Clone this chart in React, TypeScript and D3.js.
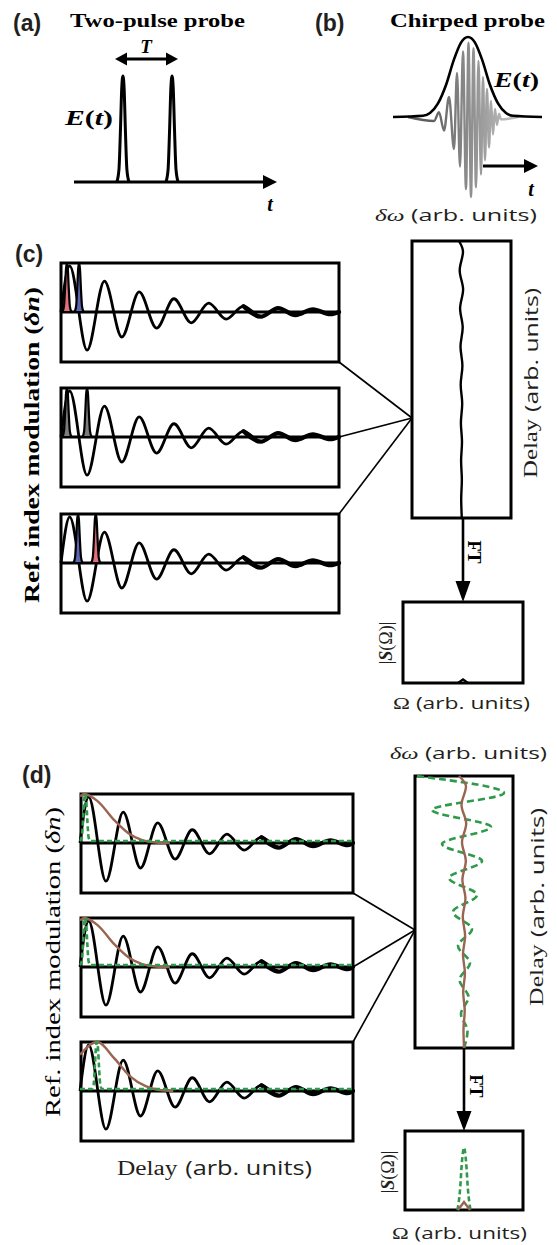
import React from "react";
import * as d3 from "d3";

type P = [number, number];

// ---------------- data ----------------
// (a) two-pulse probe: pulse times on the normalised time axis
const pulseTimesA = [0.241, 0.483];
// generic narrow pulse profile (offset in half-widths, relative height)
const pulseProfile: P[] = [[-1, 0], [-0.65, 0.12], [-0.4, 0.5], [-0.2, 0.88], [0, 1], [0.2, 0.88], [0.4, 0.5], [0.65, 0.12], [1, 0]];

// (b) chirped probe: envelope and oscillation extrema (time, relative field)
const chirpEnvelope: P[] = [[-75, 0], [-45, 0.015], [-38, 0.05], [-30, 0.17], [-22, 0.4], [-14, 0.72], [-7, 0.93], [0, 1], [7, 0.93], [14, 0.72], [22, 0.4], [30, 0.17], [38, 0.05], [45, 0.015], [74, 0]];
const chirpTroughs: P[] = [[-34, 0.05], [-24, 0.17], [-14, 0.4], [-8, 0.62], [-2, 0.9], [3, 1.0], [8, 0.88], [13, 0.72], [17, 0.54], [21, 0.38], [25, 0.22], [29, 0.1], [33, 0.03]];
const chirpPeaks: P[] = [[-29, 0.06], [-19, 0.25], [-11, 0.55], [-5, 0.82], [0.5, 0.93], [5.5, 0.86], [10.5, 0.7], [15, 0.5], [19, 0.35], [23, 0.2], [27, 0.1], [31, 0.04]];

// (c),(d) refractive-index modulation: extrema amplitudes, k-th at t = 0.25 + 0.5k periods
const oscAmps = [0.94, -0.78, 0.63, -0.51, 0.41, -0.33, 0.27, -0.22, 0.18, -0.145, 0.12, -0.095, 0.08, -0.065, 0.055, -0.045];

// (c) two-pulse probe positions (periods) in each of the three boxes
const cPulseTimes = [[0.17, 0.52], [0.17, 0.75], [0.49, 1.0]];

// (c) spectral shift vs delay (delay in periods, shift in arb. units)
const cShift: P[] = [[0, -2.5], [0.3, 1.5], [0.85, -1.8], [1.4, 1.6], [1.95, -1.4], [2.5, 1.2], [3.05, -1.0], [3.6, 0.9], [4.15, -0.8], [4.7, 0.7], [5.25, -0.6], [5.8, 0.5], [6.35, -0.4], [6.9, 0.35], [7.45, -0.3], [8, 0.3]];
// (c) Fourier transform: tiny bump
const cFT: P[] = [[-5, 0], [0, 0.045], [5, 0]];

// (d) brown (long probe) curves for the three boxes
const dBrown: P[][] = [
  [[0, 0.95], [0.12, 1.0], [0.5, 0.86], [1.0, 0.46], [1.4, 0.2], [1.8, 0.06], [2.2, 0.01], [2.6, 0]],
  [[0, 0.95], [0.12, 1.0], [0.5, 0.86], [1.0, 0.46], [1.4, 0.2], [1.8, 0.06], [2.2, 0.01], [2.6, 0]],
  [[0, 0.74], [0.5, 1.0], [1.0, 0.66], [1.45, 0.3], [1.9, 0.1], [2.3, 0.02], [2.7, 0]],
];
// (d) green dashed short probe position per box (periods)
const dGreenTimes = [0.15, 0.15, 0.49];
// (d) spectral shift vs delay: green (short probe) and brown (long probe)
const dGreenShift: P[] = [[0, -47], [0.5, 40], [1, -32], [1.5, 27], [2, -22], [2.5, 18], [3, -15], [3.5, 13], [4, -11], [4.5, 8], [5, -6], [5.5, 6], [6, -4.5], [6.5, 4.5], [7, -3], [7.5, 3.5], [8, 0]];
const dBrownShift: P[] = [[0, -5], [0.3, 2], [0.85, -2.5], [1.4, 2.2], [1.95, -2], [2.5, 1.8], [3.05, -1.6], [3.6, 1.4], [4.15, -1.2], [4.7, 1.1], [5.25, -1], [5.8, 0.9], [6.35, -0.8], [6.9, 0.7], [7.45, -0.5], [8, 0]];
// (d) Fourier transforms
const dFTGreen: P[] = [[-6.5, 0], [-4, 0.25], [-2, 0.62], [0, 0.79], [2, 0.62], [4, 0.25], [6.5, 0]];
const dFTBrown: P[] = [[-6, 0], [0, 0.1], [6, 0]];

// ---------------- styles ----------------
const SERIF = "'Liberation Serif', 'DejaVu Serif', serif";
const SANS = "'Open Sans', 'Noto Sans', 'Liberation Sans', sans-serif";
const HELV = "'Liberation Sans', Arial, sans-serif";
const RED = "#e2707b";
const BLUE = "#5d66b0";
const GREY = "#7c7c7c";
const cPulseColors = [[RED, BLUE], [GREY, GREY], [BLUE, RED]];
const GREEN = "#2f9a49";
const BROWN = "#9a6452";
const TXT = "#231f20";

const lineOf = (xs: (v: number) => number, ys: (v: number) => number, curve: d3.CurveFactory = d3.curveMonotoneX) =>
  d3.line<P>().x((d) => xs(d[0])).y((d) => ys(d[1])).curve(curve);

const tri = (pts: P[]) => pts.map((p) => p.join(",")).join(" ");

function oscPoints(tEnd: number): P[] {
  const pts: P[] = [[0, 0]];
  oscAmps.forEach((a, k) => {
    const t = 0.25 + 0.5 * k;
    if (t < tEnd) pts.push([t, a]);
  });
  pts.push([tEnd, 0]);
  return pts;
}

function pulsePts(center: number, half: number): P[] {
  return pulseProfile.map(([dx, h]) => [center + dx * half, h] as P);
}

function Et({ x, y, len }: { x: number; y: number; len: number }) {
  return (
    <text x={x} y={y} fontFamily={SERIF} fontWeight="bold" fontSize={21} textLength={len} lengthAdjust="spacingAndGlyphs">
      <tspan fontStyle="italic">E</tspan>
      <tspan>(</tspan>
      <tspan fontStyle="italic">t</tspan>
      <tspan>)</tspan>
    </text>
  );
}

export default function App() {
  // ---------- (a) ----------
  const ax = d3.scaleLinear().domain([0, 1]).range([74, 277]);
  const ay = d3.scaleLinear().domain([0, 1]).range([182, 76]);
  const aLine = lineOf(ax, ay);

  // ---------- (b) ----------
  const bx = d3.scaleLinear().domain([-80, 80]).range([388, 548]);
  const by = d3.scaleLinear().domain([-1, 1]).range([197, 37]);
  const bLine = lineOf(bx, by);
  const chirpPts: P[] = [[-60, 0], ...[...chirpTroughs.map(([t, v]) => [t, -v] as P), ...chirpPeaks].sort((a, b) => a[0] - b[0]), [50, 0]];

  // ---------- (c) left boxes ----------
  const cX0 = 61, cX1 = 339, cTops = [263, 388, 514], boxH = 99;
  const cx = d3.scaleLinear().domain([0, 8]).range([cX0, cX1]);
  const cOsc = oscPoints(8);

  // ---------- (d) left boxes ----------
  const dX0 = 81, dX1 = 353, dTops = [794, 918, 1042];
  const dx = d3.scaleLinear().domain([0, 7.9]).range([dX0 - 1, dX1]);
  const dOsc = oscPoints(7.9);

  // ---------- right panels ----------
  const crx = d3.scaleLinear().domain([-49.5, 49.5]).range([412, 511]);
  const cry = d3.scaleLinear().domain([0, 8]).range([241, 518]);
  const drx = d3.scaleLinear().domain([-49, 49]).range([415, 513]);
  const dry = d3.scaleLinear().domain([0, 8]).range([776, 1048]);
  const vLine = (xs: (v: number) => number, ys: (v: number) => number) =>
    d3.line<P>().x((d) => xs(d[1])).y((d) => ys(d[0])).curve(d3.curveMonotoneY);

  // FT boxes
  const cfx = d3.scaleLinear().domain([-60, 60]).range([403, 523]);
  const cfy = d3.scaleLinear().domain([0, 1]).range([683, 602]);
  const dfx = d3.scaleLinear().domain([-59, 59]).range([405, 523]);
  const dfy = d3.scaleLinear().domain([0, 1]).range([1210, 1131]);

  const LW = 2.8;

  const leftBox = (
    key: string,
    xs: d3.ScaleLinear<number, number>,
    x0: number,
    x1: number,
    top: number,
    osc: P[],
    over: React.ReactNode
  ) => {
    const ys = d3.scaleLinear().domain([-1, 1]).range([top + 98, top]);
    const zero = ys(0);
    const tail = osc.filter((p) => p[0] >= 5.25);
    return (
      <g key={key}>
        <rect x={x0} y={top} width={x1 - x0} height={boxH} fill="#fff" stroke="#000" strokeWidth={3} />
        <path d={lineOf(xs, ys)(osc) || ""} fill="none" stroke="#000" strokeWidth={LW} />
        <path d={lineOf(xs, ys)(tail) || ""} fill="none" stroke="#000" strokeWidth={4.2} strokeLinecap="round" />
        <line x1={x0} x2={x1} y1={zero} y2={zero} stroke="#000" strokeWidth={3} />
        {over}
      </g>
    );
  };

  return (
    <svg width={557} height={1245} style={{ position: "absolute", left: 0, top: 0, display: "block", background: "#fff" }}>
      <defs>
        <linearGradient id="chirpGrad" gradientUnits="userSpaceOnUse" x1={430} x2={505} y1={0} y2={0}>
          <stop offset="0" stopColor="#5e5e5e" />
          <stop offset="1" stopColor="#b8b8b8" />
        </linearGradient>
      </defs>

      {/* ================= (a) ================= */}
      <text x={13} y={31} fontFamily={HELV} fontWeight="bold" fontSize={23} fill={TXT}>(a)</text>
      <text x={70} y={27} fontFamily={SERIF} fontWeight="bold" fontSize={19} textLength={175} lengthAdjust="spacingAndGlyphs" fill="#000">Two-pulse probe</text>
      <text x={146} y={53} fontFamily={SERIF} fontWeight="bold" fontStyle="italic" fontSize={19} textAnchor="middle">T</text>
      <line x1={122} x2={171} y1={59} y2={59} stroke="#000" strokeWidth={3} />
      <polygon points={tri([[115, 59], [127, 52.5], [127, 65.5]])} fill="#000" />
      <polygon points={tri([[178, 59], [166, 52.5], [166, 65.5]])} fill="#000" />
      <Et x={65} y={125} len={48} />
      <line x1={74} x2={266} y1={182} y2={182} stroke="#000" strokeWidth={3} />
      <polygon points={tri([[277, 182], [263, 175], [263, 189]])} fill="#000" />
      {pulseTimesA.map((t, i) => (
        <path key={"pa" + i} d={aLine(pulsePts(t, 0.03)) || ""} fill="none" stroke="#000" strokeWidth={3} />
      ))}
      <text x={270} y={211} fontFamily={SERIF} fontWeight="bold" fontStyle="italic" fontSize={20} textAnchor="middle">t</text>

      {/* ================= (b) ================= */}
      <text x={315} y={31} fontFamily={HELV} fontWeight="bold" fontSize={23} fill={TXT}>(b)</text>
      <text x={390} y={27} fontFamily={SERIF} fontWeight="bold" fontSize={19} textLength={155} lengthAdjust="spacingAndGlyphs">Chirped probe</text>
      <path d={bLine(chirpPts) || ""} fill="none" stroke="url(#chirpGrad)" strokeWidth={2.4} />
      <path d={bLine(chirpEnvelope) || ""} fill="none" stroke="#000" strokeWidth={2.6} />
      <Et x={494} y={87} len={45} />
      <line x1={483} x2={526} y1={166} y2={166} stroke="#000" strokeWidth={3} />
      <polygon points={tri([[538, 166], [524, 159], [524, 173]])} fill="#000" />
      <text x={531} y={196} fontFamily={SERIF} fontWeight="bold" fontStyle="italic" fontSize={20} textAnchor="middle">t</text>
      <text x={375} y={221} fontFamily={SANS} fontSize={17} textLength={162} lengthAdjust="spacingAndGlyphs" fill={TXT}>
        <tspan fontFamily={SERIF} fontStyle="italic">δω</tspan> (arb. units)
      </text>

      {/* ================= (c) ================= */}
      <text x={15} y={262} fontFamily={HELV} fontWeight="bold" fontSize={23} fill={TXT}>(c)</text>
      <text transform="translate(32,445) rotate(-90)" textAnchor="middle" dominantBaseline="central" fontFamily={SERIF} fontWeight="bold" fontSize={21} textLength={316} lengthAdjust="spacingAndGlyphs">
        Ref. index modulation (<tspan fontStyle="italic">δn</tspan>)
      </text>

      {/* connectors */}
      <line x1={cX1} y1={cTops[0] + boxH} x2={412} y2={418} stroke="#000" strokeWidth={1.6} />
      <line x1={cX1} y1={cTops[1] + 49} x2={412} y2={418} stroke="#000" strokeWidth={1.6} />
      <line x1={cX1} y1={cTops[2]} x2={412} y2={418} stroke="#000" strokeWidth={1.6} />

      {cTops.map((top, bi) => {
        const ys = d3.scaleLinear().domain([-1, 1]).range([top + 98, top]);
        const area = d3.area<P>().x((d) => cx(d[0])).y0(ys(0)).y1((d) => ys(d[1])).curve(d3.curveMonotoneX);
        const pulses = cPulseTimes[bi].map((t, pi) => (
          <path key={"cp" + pi} d={area(pulsePts(t, 0.13)) || ""} fill={cPulseColors[bi][pi]} stroke="#000" strokeWidth={2.2} />
        ));
        return leftBox("c" + bi, cx, cX0, cX1, top, cOsc, <g>{pulses}</g>);
      })}

      {/* right panel (c) */}
      <rect x={412} y={241} width={99} height={277} fill="#fff" stroke="#000" strokeWidth={3} />
      <path d={vLine(crx, cry)(cShift) || ""} fill="none" stroke="#000" strokeWidth={2.4} />
      <text transform="translate(531,383) rotate(-90)" textAnchor="middle" dominantBaseline="central" fontSize={18} textLength={190} lengthAdjust="spacingAndGlyphs" fill={TXT}>
        <tspan fontFamily={SERIF}>Delay</tspan>
        <tspan fontFamily={SANS} dx={5}>(arb. units)</tspan>
      </text>
      <line x1={463} x2={463} y1={518} y2={585} stroke="#000" strokeWidth={2.6} />
      <polygon points={tri([[463, 602], [455.5, 581], [470.5, 581]])} fill="#000" />
      <text transform="translate(474,552) rotate(90)" textAnchor="middle" dominantBaseline="central" fontFamily={SERIF} fontWeight="bold" fontSize={18}>FT</text>
      <rect x={403} y={602} width={120} height={81} fill="#fff" stroke="#000" strokeWidth={3} />
      <path d={lineOf(cfx, cfy, d3.curveLinear)(cFT) || ""} fill="none" stroke="#000" strokeWidth={2.2} />
      <text transform="translate(386,643) rotate(-90)" textAnchor="middle" dominantBaseline="central" fontFamily={SERIF} fontSize={18} fill={TXT}>
        |<tspan fontWeight="bold" fontStyle="italic">S</tspan>(Ω)|
      </text>
      <text x={393} y={709} fontFamily={SANS} fontSize={17} textLength={137} lengthAdjust="spacingAndGlyphs" fill={TXT}>
        <tspan fontFamily={SERIF}>Ω</tspan> (arb. units)
      </text>

      {/* ================= (d) ================= */}
      <text x={390} y={759} fontFamily={SANS} fontSize={17} textLength={157} lengthAdjust="spacingAndGlyphs" fill={TXT}>
        <tspan fontFamily={SERIF} fontStyle="italic">δω</tspan> (arb. units)
      </text>
      <text x={22} y={783} fontFamily={HELV} fontWeight="bold" fontSize={23} fill={TXT}>(d)</text>
      <text transform="translate(53,962) rotate(-90)" textAnchor="middle" dominantBaseline="central" fontFamily={SERIF} fontSize={21} textLength={310} lengthAdjust="spacingAndGlyphs">
        Ref. index modulation (<tspan fontStyle="italic">δn</tspan>)
      </text>

      <line x1={dX1} y1={dTops[0] + boxH} x2={415} y2={930} stroke="#000" strokeWidth={1.6} />
      <line x1={dX1} y1={dTops[1] + 49} x2={415} y2={930} stroke="#000" strokeWidth={1.6} />
      <line x1={dX1} y1={dTops[2]} x2={415} y2={930} stroke="#000" strokeWidth={1.6} />

      {dTops.map((top, bi) => {
        const ys = d3.scaleLinear().domain([-1, 1]).range([top + 98, top]);
        const g = dGreenTimes[bi];
        const greenPts: P[] = [[0, 0.04], ...pulsePts(g, 0.15).map(([t, h]) => [t, Math.max(h, 0.04)] as P), [7.9, 0.04]];
        const over = (
          <g>
            <path d={lineOf(dx, ys)(dBrown[bi]) || ""} fill="none" stroke={BROWN} strokeWidth={2.4} />
            <path d={lineOf(dx, ys)(greenPts) || ""} fill="none" stroke={GREEN} strokeWidth={2.6} strokeDasharray="5 3" />
          </g>
        );
        return leftBox("d" + bi, dx, dX0, dX1, top, dOsc, over);
      })}

      <text x={117} y={1175} fontSize={20} textLength={195} lengthAdjust="spacingAndGlyphs" fill={TXT}>
        <tspan fontFamily={SERIF}>Delay</tspan>
        <tspan fontFamily={SANS} dx={6}>(arb. units)</tspan>
      </text>

      {/* right panel (d) */}
      <rect x={415} y={776} width={98} height={272} fill="#fff" stroke="#000" strokeWidth={3} />
      <path d={vLine(drx, dry)(dGreenShift) || ""} fill="none" stroke={GREEN} strokeWidth={2.6} strokeDasharray="7 4" />
      <path d={vLine(drx, dry)(dBrownShift) || ""} fill="none" stroke={BROWN} strokeWidth={2.4} />
      <text transform="translate(537,907) rotate(-90)" textAnchor="middle" dominantBaseline="central" fontSize={18} textLength={198} lengthAdjust="spacingAndGlyphs" fill={TXT}>
        <tspan fontFamily={SERIF}>Delay</tspan>
        <tspan fontFamily={SANS} dx={5}>(arb. units)</tspan>
      </text>
      <line x1={464} x2={464} y1={1048} y2={1115} stroke="#000" strokeWidth={2.6} />
      <polygon points={tri([[464, 1131], [456.5, 1111], [471.5, 1111]])} fill="#000" />
      <text transform="translate(476,1086) rotate(90)" textAnchor="middle" dominantBaseline="central" fontFamily={SERIF} fontWeight="bold" fontSize={18}>FT</text>
      <rect x={405} y={1131} width={118} height={79} fill="#fff" stroke="#000" strokeWidth={3} />
      <path d={lineOf(dfx, dfy)(dFTGreen) || ""} fill="none" stroke={GREEN} strokeWidth={2.6} strokeDasharray="5 3" />
      <path d={lineOf(dfx, dfy, d3.curveLinear)(dFTBrown) || ""} fill="none" stroke={BROWN} strokeWidth={2.4} />
      <text transform="translate(388,1172) rotate(-90)" textAnchor="middle" dominantBaseline="central" fontFamily={SERIF} fontSize={18} fill={TXT}>
        |<tspan fontWeight="bold" fontStyle="italic">S</tspan>(Ω)|
      </text>
      <text x={392} y={1239} fontFamily={SANS} fontSize={17} textLength={135} lengthAdjust="spacingAndGlyphs" fill={TXT}>
        <tspan fontFamily={SERIF}>Ω</tspan> (arb. units)
      </text>
    </svg>
  );
}
